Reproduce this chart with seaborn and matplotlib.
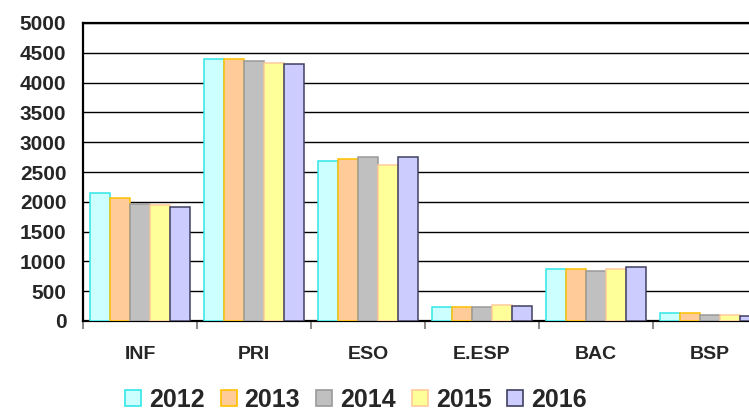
import pandas as pd
import numpy as np
import matplotlib
matplotlib.use("Agg")
import matplotlib.pyplot as plt
import seaborn as sns
from matplotlib.patches import Patch

# values
categories = ["INF", "PRI", "ESO", "E.ESP", "BAC", "BSP"]
years = ["2012", "2013", "2014", "2015", "2016"]
v2012 = [2140, 4400, 2680, 230, 870, 130]
v2013 = [2070, 4400, 2720, 230, 870, 130]
v2014 = [1970, 4360, 2750, 230, 835, 95]
v2015 = [1940, 4330, 2620, 265, 870, 95]
v2016 = [1905, 4320, 2750, 255, 900, 90]

fill_colors = ["#CCFFFF", "#FFCC99", "#C0C0C0", "#FFFF99", "#CCCCFF"]
edge_colors = ["#33E6E6", "#FFC000", "#9A9A9A", "#FFCC99", "#404060"]

rows = []
for year, vals in zip(years, [v2012, v2013, v2014, v2015, v2016]):
    for cat, v in zip(categories, vals):
        rows.append({"cat": cat, "year": year, "value": v})
df = pd.DataFrame(rows)

sns.set_theme(style="white")
plt.rcParams['font.family'] = ['Liberation Sans', 'DejaVu Sans']
plt.rcParams['font.weight'] = 'bold'

fig = plt.figure(figsize=(7.49, 4.13), dpi=100)
ax = fig.add_axes([83 / 749, 92 / 413, 684 / 749, 298 / 413])

sns.barplot(data=df, x="cat", y="value", hue="year", order=categories,
            hue_order=years, palette=fill_colors, saturation=1, width=0.88,
            ax=ax, legend=False, zorder=3)

for cont, ec in zip(ax.containers, edge_colors):
    for bar in cont:
        bar.set_edgecolor(ec)
        bar.set_linewidth(1.1)

ax.set_ylim(0, 5000)
ax.set_xlim(-0.5, 5.5)
ax.set_yticks(np.arange(0, 5001, 500))
ax.yaxis.grid(True, color="black", linewidth=1.0, zorder=0)
ax.set_axisbelow(True)
ax.tick_params(axis="y", length=0, pad=12, labelsize=15)
ax.tick_params(axis="x", which="major", length=0, pad=18, labelsize=14)
ax.set_xticks(np.arange(-0.5, 6, 1), minor=True)
ax.tick_params(axis="x", which="minor", length=6, width=1.2, color="#777777", direction="out", bottom=True)
for lbl in ax.get_xticklabels() + ax.get_yticklabels():
    lbl.set_fontweight("bold")
ax.set_xlabel("")
ax.set_ylabel("")

for side in ["left", "bottom", "top"]:
    ax.spines[side].set_visible(True)
    ax.spines[side].set_color("black")
    ax.spines[side].set_linewidth(1.6)
ax.spines["right"].set_visible(False)

handles = [Patch(facecolor=f, edgecolor=e, linewidth=1.2) for f, e in zip(fill_colors, edge_colors)]
fig.legend(handles, years, loc="center", bbox_to_anchor=(356 / 749, 13 / 413),
           ncol=5, frameon=False, prop={"size": 18, "weight": "bold"},
           handlelength=0.64, handleheight=0.64, handletextpad=0.32, columnspacing=0.64,
           borderpad=0.05)

fig.savefig("out.png", dpi=100)
